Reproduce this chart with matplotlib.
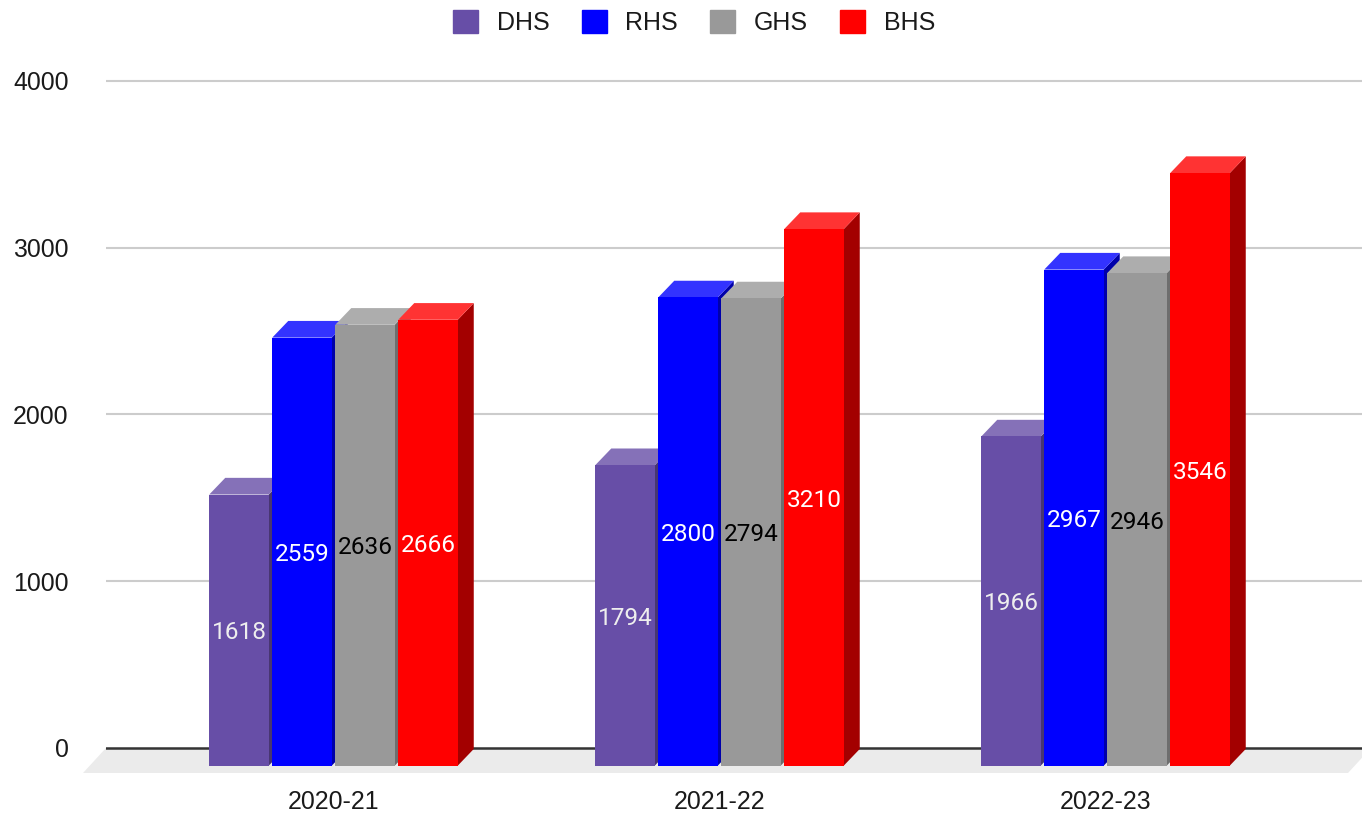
import matplotlib
matplotlib.use('Agg')
import matplotlib.pyplot as plt
from matplotlib.patches import Patch

plt.rcParams['font.family'] = ['Liberation Sans', 'DejaVu Sans']

years = ['2020-21', '2021-22', '2022-23']
series_names = ['DHS', 'RHS', 'GHS', 'BHS']
dhs = [1618, 1794, 1966]
rhs = [2559, 2800, 2967]
ghs = [2636, 2794, 2946]
bhs = [2666, 3210, 3546]
y_ticks = [0, 1000, 2000, 3000, 4000]

front_colors = ['#674ea7', '#0000ff', '#999999', '#ff0000']
side_colors = ['#483671', '#0000aa', '#6e6e6e', '#a30000']
top_colors = ['#8571b8', '#3333ff', '#adadad', '#ff3333']
label_colors = ['#eeeeee', '#ffffff', '#000000', '#ffffff']

# fake 3d sizes, x in group units (386 px per group), y in value units
BAR_W = 59.5 / 386
BAR_STEP = 63 / 386
DEPTH_X = 16 / 386
DEPTH_Y = 100
FRONT_DROP = 98
BAR_BOTTOM = -106
FLOOR_Y = -150

fig = plt.figure(figsize=(13.62, 8.15), dpi=100)
ax = fig.add_axes([106 / 1362, 1 - 773 / 815, 1256 / 1362, (773 - 64.3) / 815])
ax.set_xlim(-0.5894, 2.6645)
ax.set_ylim(FLOOR_Y, 4100)

# gridlines and floor
for t in y_ticks[1:]:
    ax.axhline(t, color='#cccccc', lw=1.5, zorder=1)
x0, x1 = ax.get_xlim()
ax.fill([x0, x1 + 9 / 386, x1 + 9 / 386 - 23 / 386, x0 - 23 / 386],
        [0, 0, FLOOR_Y, FLOOR_Y], color='#ebebeb', lw=0, zorder=1, clip_on=False)
ax.axhline(0, color='#333333', lw=1.8, zorder=2)

all_series = [dhs, rhs, ghs, bhs]
for i, values in enumerate(all_series):
    z = 3 + i
    for g, v in enumerate(values):
        left = g + (i - 2) * BAR_STEP - BAR_W / 2 + BAR_STEP / 2
        right = left + BAR_W
        top = v - FRONT_DROP
        # side face
        ax.fill([right, right + DEPTH_X, right + DEPTH_X, right],
                [top, top + DEPTH_Y, BAR_BOTTOM + DEPTH_Y, BAR_BOTTOM],
                color=side_colors[i], lw=0, zorder=z)
        # top face
        ax.fill([left, left + DEPTH_X, right + DEPTH_X, right],
                [top, top + DEPTH_Y, top + DEPTH_Y, top],
                color=top_colors[i], lw=0, zorder=z)
        # front face
        ax.bar(left, top - BAR_BOTTOM, width=BAR_W, bottom=BAR_BOTTOM, align='edge',
               color=front_colors[i], lw=0, zorder=z + 0.1)
        ax.text(left + BAR_W / 2, (top + BAR_BOTTOM) / 2 - 16, str(v), ha='center', va='center',
                color=label_colors[i], fontsize=17.6, family='Roboto', zorder=20)

ax.set_yticks(y_ticks)
ax.set_xticks(range(len(years)))
ax.set_xticklabels(years)
ax.tick_params(axis='y', length=0, pad=27, labelsize=17.9, labelcolor='#1a1a1a')
ax.tick_params(axis='x', length=0, pad=12.5, labelsize=17.9, labelcolor='#1a1a1a')
for s in ax.spines.values():
    s.set_visible(False)

handles = [Patch(facecolor=c, edgecolor=c, lw=1, joinstyle='round') for c in front_colors]
leg = fig.legend(handles, series_names, loc='center', bbox_to_anchor=(694 / 1362, 1 - 22.5 / 815),
                 ncol=4, frameon=False, fontsize=18, handlelength=1.0, handleheight=1.0,
                 handletextpad=0.75, columnspacing=1.28, labelcolor='#1a1a1a',
                 borderpad=0, borderaxespad=0)

fig.savefig('out.png', dpi=100)
